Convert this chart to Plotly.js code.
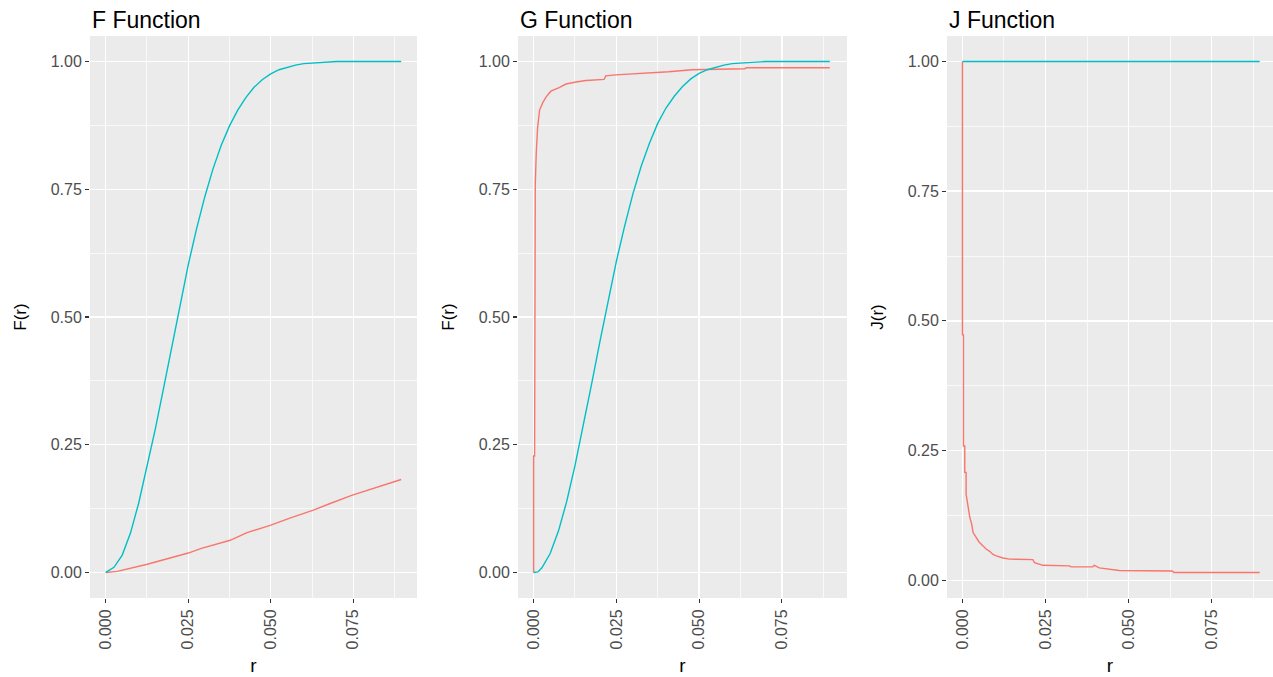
<!DOCTYPE html>
<html>
<head>
<meta charset="utf-8">
<script src="https://cdn.plot.ly/plotly-3.0.1.min.js"></script>
<style>html,body{margin:0;padding:0;background:#fff;}#chart{width:1273px;height:677px;}</style>
</head>
<body>
<div id="chart"></div>
<script>
// ---------- data ----------
const panelTitles = ["F Function", "G Function", "J Function"];
const yTitles = ["F(r)", "F(r)", "J(r)"];
const xTitle = "r";

const xTickVals = [0, 0.025, 0.05, 0.075];
const xTickText = ["0.000", "0.025", "0.050", "0.075"];
const xMinorVals = [0.0125, 0.0375, 0.0625, 0.0875];
const yTickVals = [0, 0.25, 0.5, 0.75, 1];
const yTickText = ["0.00", "0.25", "0.50", "0.75", "1.00"];
const yMinorVals = [0.125, 0.375, 0.625, 0.875];

// theoretical (cyan) curves, panels F and G
const theoR = [0, 0.0013, 0.0025, 0.005, 0.0075, 0.01, 0.0125, 0.015, 0.0175, 0.02, 0.0225, 0.025, 0.0275, 0.03,
  0.0325, 0.035, 0.0375, 0.04, 0.0425, 0.045, 0.0475, 0.05, 0.0525, 0.055, 0.0575, 0.06, 0.0625, 0.065,
  0.0675, 0.07, 0.0895];
const fTheo = [0, 0.006, 0.01, 0.034, 0.077, 0.136, 0.205, 0.28, 0.36, 0.443, 0.522, 0.602, 0.672, 0.735,
  0.79, 0.836, 0.874, 0.905, 0.93, 0.95, 0.965, 0.976, 0.984, 0.989, 0.993, 0.996, 0.997, 0.998,
  0.999, 1.0, 1.0];
const gTheo = [0, 0.001, 0.009, 0.037, 0.081, 0.139, 0.209, 0.286, 0.368, 0.451, 0.532, 0.609, 0.678, 0.741,
  0.795, 0.84, 0.879, 0.909, 0.932, 0.951, 0.966, 0.977, 0.984, 0.989, 0.993, 0.996, 0.997, 0.998,
  0.999, 1.0, 1.0];

// empirical F (red)
const fEmpR = [0, 0.0035, 0.0126, 0.0186, 0.025, 0.029, 0.0338, 0.0377, 0.0428, 0.0498, 0.056, 0.0629, 0.068, 0.0745, 0.0895];
const fEmp  = [0, 0.002, 0.016, 0.026, 0.038, 0.047, 0.055, 0.063, 0.078, 0.092, 0.107, 0.122, 0.135, 0.151, 0.182];

// empirical G (red)
const gEmpR = [0, 0, 0.0003, 0.0003, 0.0005, 0.0008, 0.0012, 0.0018, 0.0028, 0.0038, 0.0052, 0.0077, 0.0098,
  0.0128, 0.0158, 0.0213, 0.0218, 0.0248, 0.0338, 0.0408, 0.0478, 0.0538, 0.0638, 0.0643, 0.0895];
const gEmp  = [0, 0.228, 0.228, 0.703, 0.76, 0.822, 0.87, 0.905, 0.92, 0.931, 0.942, 0.949, 0.956,
  0.96, 0.963, 0.965, 0.972, 0.974, 0.977, 0.98, 0.984, 0.985, 0.986, 0.988, 0.988];

// J function: empirical (red) and theoretical (cyan)
const jEmpR = [0, 0, 0.0003, 0.0003, 0.0007, 0.0007, 0.0011, 0.0011, 0.0017, 0.0022, 0.0028, 0.0032, 0.0037,
  0.0044, 0.005, 0.0062, 0.0072, 0.0082, 0.0092, 0.0102, 0.0122, 0.0142, 0.0212, 0.0217, 0.0242, 0.0322,
  0.0327, 0.0392, 0.0397, 0.0412, 0.0472, 0.0632, 0.0637, 0.0895];
const jEmp  = [1.0, 0.473, 0.473, 0.259, 0.259, 0.208, 0.208, 0.166, 0.142, 0.122, 0.108, 0.092, 0.087,
  0.08, 0.074, 0.066, 0.06, 0.056, 0.05, 0.047, 0.043, 0.041, 0.04, 0.034, 0.029, 0.028,
  0.026, 0.026, 0.029, 0.024, 0.019, 0.018, 0.015, 0.015];
const jTheoR = [0, 0.0895];
const jTheo  = [1, 1];

// ---------- styling ----------
const RED = "#F8766D", CYAN = "#00BFC4";
const FONT = "Liberation Sans, Arial, sans-serif";
const W = 1273, H = 677;

function line(x, y, color, xa, ya) {
  return {x: x, y: y, type: "scatter", mode: "lines", line: {color: color, width: 1.4},
          xaxis: xa, yaxis: ya, hoverinfo: "skip"};
}

const traces = [
  line(fEmpR, fEmp, RED, "x", "y"),
  line(theoR, fTheo, CYAN, "x", "y"),
  line(gEmpR, gEmp, RED, "x2", "y2"),
  line(theoR, gTheo, CYAN, "x2", "y2"),
  line(jEmpR, jEmp, RED, "x3", "y3"),
  line(jTheoR, jTheo, CYAN, "x3", "y3")
];

function xAxis(domain, range) {
  return {
    domain: domain, range: range,
    tickmode: "array", tickvals: xTickVals, ticktext: xTickText, tickangle: -90,
    ticks: "outside", ticklen: 4, tickwidth: 1.1, tickcolor: "#333333",
    tickfont: {family: FONT, size: 16, color: "#4D4D4D"},
    showgrid: true, gridcolor: "#FFFFFF", gridwidth: 1.4, zeroline: false, showline: false,
    minor: {tickmode: "array", tickvals: xMinorVals, showgrid: true, gridcolor: "#FFFFFF", gridwidth: 0.7, ticks: ""},
    title: {text: xTitle, font: {family: FONT, size: 19, color: "#000000"}, standoff: 10},
    fixedrange: true
  };
}
function yAxis(range, title) {
  return {
    domain: [1 - 598 / H, 1 - 36 / H], range: range,
    tickmode: "array", tickvals: yTickVals, ticktext: yTickText,
    ticks: "outside", ticklen: 4, tickwidth: 1.1, tickcolor: "#333333",
    tickfont: {family: FONT, size: 16, color: "#4D4D4D"},
    showgrid: true, gridcolor: "#FFFFFF", gridwidth: 1.4, zeroline: false, showline: false,
    minor: {tickmode: "array", tickvals: yMinorVals, showgrid: true, gridcolor: "#FFFFFF", gridwidth: 0.7, ticks: ""},
    title: {text: title, font: {family: FONT, size: 17, color: "#000000"}, standoff: 19},
    fixedrange: true
  };
}

const layout = {
  width: W, height: H, margin: {l: 0, r: 0, t: 0, b: 0},
  paper_bgcolor: "#FFFFFF", plot_bgcolor: "#EBEBEB", showlegend: false,
  xaxis:  Object.assign(xAxis([90 / W, 417 / W], [-0.00476, 0.0943]), {anchor: "y"}),
  yaxis:  Object.assign(yAxis([-0.05, 1.05], yTitles[0]), {anchor: "x"}),
  xaxis2: Object.assign(xAxis([518 / W, 847 / W], [-0.00472, 0.0947]), {anchor: "y2"}),
  yaxis2: Object.assign(yAxis([-0.05, 1.05], yTitles[1]), {anchor: "x2"}),
  xaxis3: Object.assign(xAxis([947 / W, 1], [-0.00465, 0.0935]), {anchor: "y3"}),
  yaxis3: Object.assign(yAxis([-0.034, 1.049], yTitles[2]), {anchor: "x3"}),
  annotations: [90, 518, 947].map((px, i) => ({
    text: panelTitles[i], xref: "paper", yref: "paper", x: px / W, y: 1 - 20 / H,
    xanchor: "left", yanchor: "middle", showarrow: false,
    font: {family: FONT, size: 23, color: "#000000"}
  }))
};

Plotly.newPlot("chart", traces, layout, {staticPlot: true, displayModeBar: false});
</script>
</body>
</html>
